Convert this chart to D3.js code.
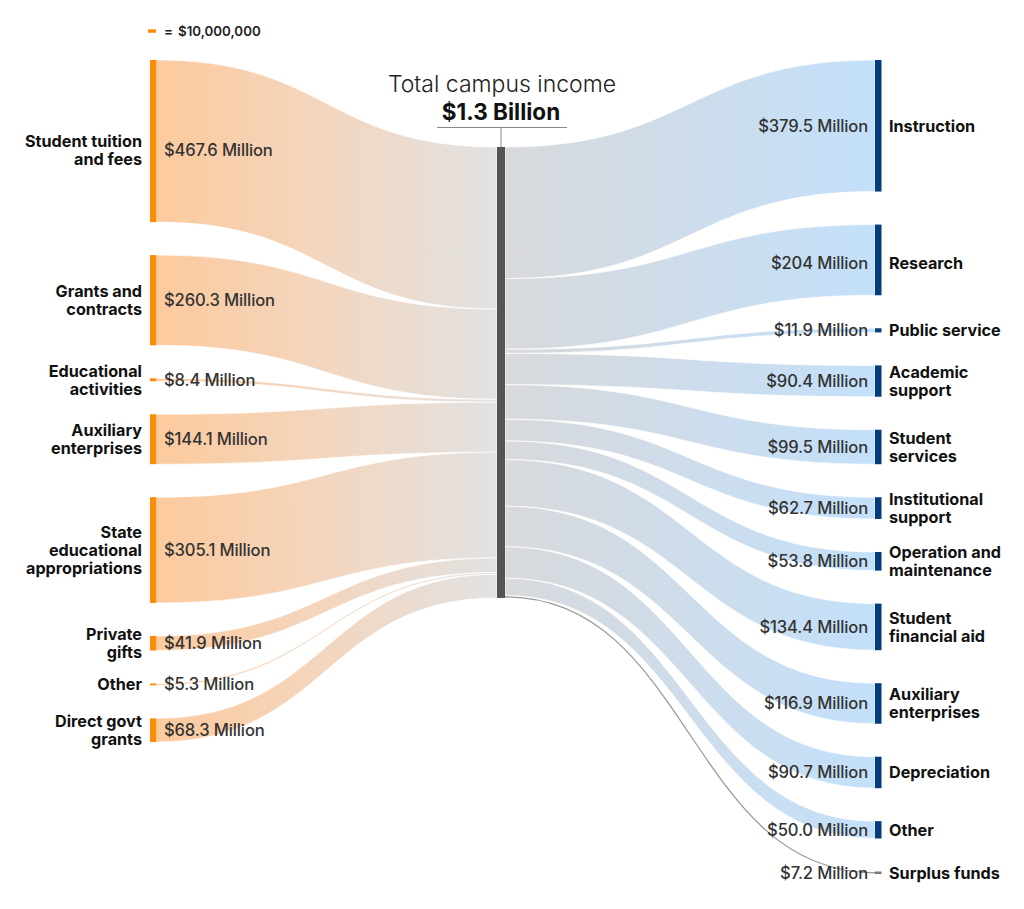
<!DOCTYPE html>
<html>
<head>
<meta charset="utf-8">
<script src="https://cdn.jsdelivr.net/npm/d3@7"></script>
<style>
  body { margin: 0; background: #fff; }
  svg { display: block; font-family: Inter, "Noto Sans", sans-serif; }
</style>
</head>
<body>
<svg id="chart" width="1024" height="909"></svg>
<script>
// income side (left column)
const incomeNames = ["Student tuition\nand fees", "Grants and\ncontracts", "Educational\nactivities",
  "Auxiliary\nenterprises", "State\neducational\nappropriations", "Private\ngifts", "Other", "Direct govt\ngrants"];
const incomeValues = [467.6, 260.3, 8.4, 144.1, 305.1, 41.9, 5.3, 68.3];
const incomeText = ["$467.6 Million", "$260.3 Million", "$8.4 Million", "$144.1 Million",
  "$305.1 Million", "$41.9 Million", "$5.3 Million", "$68.3 Million"];

// spending side (right column)
const spendNames = ["Instruction", "Research", "Public service", "Academic\nsupport", "Student\nservices",
  "Institutional\nsupport", "Operation and\nmaintenance", "Student\nfinancial aid", "Auxiliary\nenterprises",
  "Depreciation", "Other", "Surplus funds"];
const spendValues = [379.5, 204, 11.9, 90.4, 99.5, 62.7, 53.8, 134.4, 116.9, 90.7, 50.0, 7.2];
const spendText = ["$379.5 Million", "$204 Million", "$11.9 Million", "$90.4 Million", "$99.5 Million",
  "$62.7 Million", "$53.8 Million", "$134.4 Million", "$116.9 Million", "$90.7 Million",
  "$50.0 Million", "$7.2 Million"];

const totalText = "$1.3 Billion";
const legendValue = 10;          // millions per legend dash
const legendText = "$10,000,000";

const svg = d3.select("#chart");
const total = d3.sum(incomeValues);

// value (millions) -> pixels
const h = d3.scaleLinear().domain([0, total]).range([0, 451]);

const topY = 60, pad = 33;
const leftX = 150, nodeW = 6.5, rightX = 875;
const barX = 497, barW = 8, barTop = 147;

function stack(values, start, gap) {
  let y = start;
  return values.map(v => {
    const n = { y0: y, y1: y + h(v) };
    y = n.y1 + gap;
    return n;
  });
}

const leftNodes = stack(incomeValues, topY, pad);
const rightNodes = stack(spendValues, topY, pad);
const barInLeft = stack(incomeValues, barTop, 0);
const barInRight = stack(spendValues, barTop, 0);

function ribbon(x0, x1, a, b) {
  const xm = (x0 + x1) / 2;
  const p = d3.path();
  p.moveTo(x0, a.y0);
  p.bezierCurveTo(xm, a.y0, xm, b.y0, x1, b.y0);
  p.lineTo(x1, b.y1);
  p.bezierCurveTo(xm, b.y1, xm, a.y1, x0, a.y1);
  p.closePath();
  return p.toString();
}

// gradients
const defs = svg.append("defs");
const gl = defs.append("linearGradient").attr("id", "gradLeft")
  .attr("gradientUnits", "userSpaceOnUse")
  .attr("x1", leftX + nodeW).attr("x2", barX).attr("y1", 0).attr("y2", 0);
gl.append("stop").attr("offset", "0%").attr("stop-color", "#fcca9d");
gl.append("stop").attr("offset", "45%").attr("stop-color", "#f4d5bc");
gl.append("stop").attr("offset", "100%").attr("stop-color", "#e2e2e2");
const gr = defs.append("linearGradient").attr("id", "gradRight")
  .attr("gradientUnits", "userSpaceOnUse")
  .attr("x1", barX + barW).attr("x2", rightX).attr("y1", 0).attr("y2", 0);
gr.append("stop").attr("offset", "0%").attr("stop-color", "#d8d9dc");
gr.append("stop").attr("offset", "100%").attr("stop-color", "#c3e0fa");

// links
const links = svg.append("g").attr("class", "links");
links.selectAll("path.in")
  .data(incomeValues)
  .enter()
  .append("path")
  .attr("class", "in")
  .attr("fill", "url(#gradLeft)")
  .attr("stroke", "#fff")
  .attr("stroke-width", 0.7)
  .attr("d", (d, i) => ribbon(leftX + nodeW, barX, leftNodes[i], barInLeft[i]));

const lastIdx = spendValues.length - 1;
links.selectAll("path.out")
  .data(spendValues.slice(0, lastIdx))
  .enter()
  .append("path")
  .attr("class", "out")
  .attr("fill", "url(#gradRight)")
  .attr("stroke", "#fff")
  .attr("stroke-width", 0.7)
  .attr("d", (d, i) => ribbon(barX + barW, rightX, barInRight[i], rightNodes[i]));

// surplus drawn as a thin line
const surplusLink = d3.linkHorizontal();
const mid = n => (n.y0 + n.y1) / 2;
links.append("path")
  .attr("fill", "none")
  .attr("stroke", "#999")
  .attr("stroke-width", 1.3)
  .attr("d", surplusLink({
    source: [barX + barW, mid(barInRight[lastIdx])],
    target: [rightX, mid(rightNodes[lastIdx])]
  }));

// center bar
svg.append("rect")
  .attr("x", barX).attr("y", barTop)
  .attr("width", barW).attr("height", h(total))
  .attr("fill", "#555");

// nodes
svg.append("g").selectAll("rect")
  .data(leftNodes)
  .enter()
  .append("rect")
  .attr("x", leftX).attr("y", d => d.y0)
  .attr("width", nodeW).attr("height", d => Math.max(d.y1 - d.y0, 1.5))
  .attr("fill", "#fb8c0a");

svg.append("g").selectAll("rect")
  .data(rightNodes)
  .enter()
  .append("rect")
  .attr("x", rightX).attr("y", d => d.y0)
  .attr("width", nodeW).attr("height", d => Math.max(d.y1 - d.y0, 1.5))
  .attr("fill", (d, i) => i === lastIdx ? "#777" : "#053c7c");

// labels
const lineH = 18;
function multiline(g, text, x, cy, anchor) {
  const lines = text.split("\n");
  const t = g.append("text")
    .attr("text-anchor", anchor)
    .attr("font-size", 16.2)
    .attr("font-weight", 700)
    .attr("fill", "#111");
  lines.forEach((l, k) => {
    t.append("tspan")
      .attr("x", x)
      .attr("y", cy + (k - (lines.length - 1) / 2) * lineH)
      .attr("dy", "0.36em")
      .text(l);
  });
}

const leftLabels = svg.append("g");
incomeNames.forEach((name, i) => {
  // tuition labels sit a little below the node middle, as in the original
  const cy = mid(leftNodes[i]) + (i === 0 ? 9 : 0);
  multiline(leftLabels, name, 142, cy, "end");
  leftLabels.append("text")
    .attr("x", 164).attr("y", cy).attr("dy", "0.36em")
    .attr("font-size", 16.6).attr("font-weight", 500).attr("fill", "#333")
    .attr("letter-spacing", -0.15)
    .text(incomeText[i]);
});

const rightLabels = svg.append("g");
spendNames.forEach((name, i) => {
  const cy = mid(rightNodes[i]) + (i === 1 ? 3 : 0);
  multiline(rightLabels, name, 889, cy, "start");
  rightLabels.append("text")
    .attr("x", 868).attr("y", cy).attr("dy", "0.36em")
    .attr("text-anchor", "end")
    .attr("font-size", 16.6).attr("font-weight", 500).attr("fill", "#333")
    .attr("letter-spacing", -0.15)
    .text(spendText[i]);
});

// title
svg.append("text")
  .attr("x", 502).attr("y", 92)
  .attr("text-anchor", "middle")
  .attr("font-size", 23).attr("font-weight", 300).attr("fill", "#222")
  .text("Total campus income");
svg.append("text")
  .attr("x", 501).attr("y", 120)
  .attr("text-anchor", "middle")
  .attr("font-size", 22.5).attr("font-weight", 700).attr("fill", "#111")
  .text(totalText);
svg.append("line")
  .attr("x1", 437).attr("x2", 567).attr("y1", 127.5).attr("y2", 127.5)
  .attr("stroke", "#888").attr("stroke-width", 1);
svg.append("line")
  .attr("x1", 501).attr("x2", 501).attr("y1", 127.5).attr("y2", barTop)
  .attr("stroke", "#888").attr("stroke-width", 1);

// legend
svg.append("rect")
  .attr("x", 148).attr("y", 31 - h(legendValue) / 2)
  .attr("width", 8).attr("height", h(legendValue))
  .attr("fill", "#fb8c0a");
svg.append("text")
  .attr("x", 164).attr("y", 31).attr("dy", "0.36em")
  .attr("font-size", 13.3).attr("font-weight", 600).attr("fill", "#222")
  .text("=");
svg.append("text")
  .attr("x", 178).attr("y", 31).attr("dy", "0.36em")
  .attr("font-size", 13.3).attr("font-weight", 600).attr("fill", "#222")
  .text(legendText);
</script>
</body>
</html>
